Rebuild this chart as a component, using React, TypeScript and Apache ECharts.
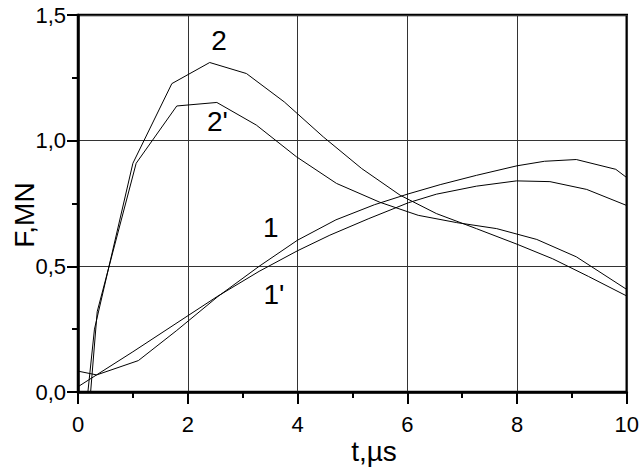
import React, { useEffect, useRef } from "react";
import * as echarts from "echarts";

const curve1: [number, number][] = [
  [0, 0.083], [0.34, 0.068], [1.1, 0.125], [1.8, 0.245], [2.55, 0.38], [3.3, 0.5],
  [4.0, 0.604], [4.7, 0.685], [5.4, 0.745], [6.0, 0.787], [6.6, 0.825], [7.26, 0.862],
  [8.0, 0.9], [8.5, 0.918], [9.08, 0.925], [9.8, 0.886], [10, 0.853],
];
const curve1p: [number, number][] = [
  [0, 0.021], [1.0, 0.16], [2.02, 0.306], [2.53, 0.379], [3.3, 0.48], [4.0, 0.562],
  [4.59, 0.624], [5.3, 0.69], [6.02, 0.753], [6.53, 0.787], [7.26, 0.819], [7.99, 0.84],
  [8.6, 0.837], [9.27, 0.806], [10, 0.742],
];
const curve2: [number, number][] = [
  [0.18, 0], [0.3, 0.25], [1.0, 0.91], [1.71, 1.227], [2.4, 1.311], [3.07, 1.267],
  [3.76, 1.154], [4.47, 1.015], [5.17, 0.889], [5.87, 0.783], [6.53, 0.71], [7.26, 0.65],
  [8.0, 0.588], [8.65, 0.53], [9.3, 0.46], [10, 0.382],
];
const curve2p: [number, number][] = [
  [0.23, 0], [0.35, 0.32], [1.06, 0.91], [1.8, 1.138], [2.53, 1.152], [3.25, 1.062],
  [3.98, 0.936], [4.71, 0.83], [5.5, 0.755], [6.2, 0.703], [6.9, 0.674], [7.63, 0.65],
  [8.36, 0.607], [9.08, 0.538], [10, 0.408],
];
const curveNames = ["1", "1'", "2", "2'"];
const labelPos: [number, number][] = [[3.515, 0.654], [3.57, 0.386], [2.568, 1.4], [2.541, 1.078]];

const FONT = "'Liberation Sans', Arial, sans-serif";

export default function App() {
  const ref = useRef<HTMLDivElement>(null);
  useEffect(() => {
    if (!ref.current) return;
    const chart = echarts.init(ref.current, null, { renderer: "svg" });
    const all = [curve1, curve1p, curve2, curve2p];
    chart.setOption({
      animation: false,
      backgroundColor: "#fff",
      grid: {
        left: 78, right: 15, top: 15, bottom: 76,
        show: true, borderColor: "#000", borderWidth: 2.5, backgroundColor: "transparent",
      },
      xAxis: {
        type: "value", min: 0, max: 10, interval: 2,
        axisLine: { show: true, lineStyle: { color: "#000", width: 2.5 } },
        axisTick: { show: true, length: 12, lineStyle: { color: "#000", width: 2 } },
        minorTick: { show: true, splitNumber: 2, length: 6, lineStyle: { color: "#000", width: 2 } },
        splitLine: { show: true, lineStyle: { color: "#333", width: 1 } },
        axisLabel: { color: "#000", fontSize: 22, fontFamily: FONT, margin: 21 },
      },
      yAxis: {
        type: "value", min: 0, max: 1.5, interval: 0.5,
        axisLine: { show: true, lineStyle: { color: "#000", width: 2.5 } },
        axisTick: { show: true, length: 11, lineStyle: { color: "#000", width: 2 } },
        minorTick: { show: true, splitNumber: 2, length: 6, lineStyle: { color: "#000", width: 2 } },
        splitLine: { show: true, lineStyle: { color: "#333", width: 1 } },
        axisLabel: {
          color: "#000", fontSize: 22, fontFamily: FONT, margin: 12, padding: [6, 0, 0, 0],
          formatter: (v: number) => v.toFixed(1).replace(".", ","),
        },
      },
      series: all.map((d, i) => ({
        type: "line",
        name: curveNames[i],
        data: d,
        showSymbol: false,
        symbol: "none",
        lineStyle: { color: "#000", width: 1 },
        z: 3,
      })),
    });
    const labels = labelPos.map((p, i) => {
      const px = chart.convertToPixel({ gridIndex: 0 }, p) as number[];
      return {
        type: "text", x: px[0], y: px[1],
        style: { text: curveNames[i], font: `28px ${FONT}`, fill: "#000", align: "center", verticalAlign: "middle" },
      };
    });
    chart.setOption({
      graphic: [
        {
          type: "text", x: 24, y: 215, rotation: Math.PI / 2,
          style: { text: "F,MN", font: `28px ${FONT}`, fill: "#000", align: "center", verticalAlign: "middle" },
        },
        {
          type: "text", x: 374, y: 451,
          style: { text: "t,\u00b5s", font: `28px ${FONT}`, fill: "#000", align: "center", verticalAlign: "middle" },
        },
        ...labels,
      ],
    });
    return () => chart.dispose();
  }, []);
  return <div ref={ref} style={{ position: "fixed", left: 0, top: 0, width: 642, height: 468 }} />;
}
